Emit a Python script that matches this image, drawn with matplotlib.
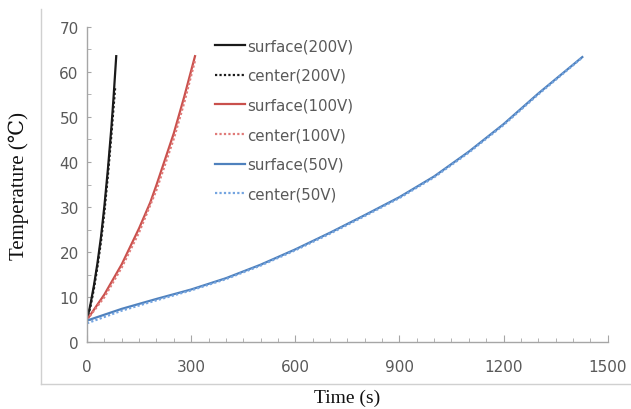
import matplotlib
matplotlib.use('Agg')
import matplotlib.pyplot as plt
from matplotlib.lines import Line2D
from matplotlib.ticker import MultipleLocator

# 200V
t_s200 = [0, 10, 20, 30, 40, 50, 60, 70, 76, 84]
T_s200 = [5, 8.5, 12.7, 17.6, 23.3, 30.3, 38.4, 47.6, 54, 63.5]
t_c200 = [0, 10, 20, 30, 40, 50, 60, 70, 81]
T_c200 = [5, 8, 12, 16.8, 22.3, 29, 37, 46, 56.6]

# 100V
t_s100 = [0, 50, 100, 150, 182, 200, 250, 280, 311]
T_s100 = [5, 10.6, 17.3, 25.3, 31, 34.9, 46.4, 54.5, 63.5]
t_c100 = [0, 50, 100, 150, 200, 250, 280, 311]
T_c100 = [5, 10, 16.6, 24.4, 33.8, 45.2, 53.2, 62.5]

# 50V
t_s50 = [0, 100, 200, 300, 400, 500, 600, 700, 800, 900, 1000, 1100, 1200, 1300, 1427]
T_s50 = [4.8, 7.4, 9.6, 11.7, 14.2, 17.2, 20.6, 24.3, 28.2, 32.2, 36.8, 42.3, 48.4, 55.2, 63.3]
t_c50 = [0, 100, 200, 300, 400, 500, 600, 700, 800, 900, 1000, 1100, 1200, 1300, 1427]
T_c50 = [4.2, 7.0, 9.3, 11.5, 14.0, 17.0, 20.4, 24.1, 28.0, 32.0, 36.6, 42.1, 48.2, 55.0, 63.2]

BLACK = '#1a1a1a'
RED = '#c9504c'
RED_L = '#e07a78'
BLUE = '#4f81bd'
BLUE_L = '#74a4e0'
AXC = '#a6a6a6'
TXT = '#595959'

fig = plt.figure(figsize=(6.31, 4.10), dpi=100)
ax = fig.add_axes([0.138, 0.163, 0.825, 0.769])

ax.plot(t_s200, T_s200, color=BLACK, lw=1.6, label='surface(200V)')
ax.plot(t_c200, T_c200, color=BLACK, lw=1.6, ls=(0, (1, 1)), label='center(200V)')
ax.plot(t_s100, T_s100, color=RED, lw=1.6, label='surface(100V)')
ax.plot(t_c100, T_c100, color=RED_L, lw=1.6, ls=(0, (1, 1)), label='center(100V)')
ax.plot(t_s50, T_s50, color=BLUE, lw=1.6, label='surface(50V)')
ax.plot(t_c50, T_c50, color=BLUE_L, lw=1.6, ls=(0, (1, 1)), label='center(50V)')

ax.set_xlim(0, 1500)
ax.set_ylim(0, 70)
ax.xaxis.set_major_locator(MultipleLocator(300))
ax.xaxis.set_minor_locator(MultipleLocator(50))
ax.yaxis.set_major_locator(MultipleLocator(10))
ax.yaxis.set_minor_locator(MultipleLocator(5))
for s in ('top', 'right'):
    ax.spines[s].set_visible(False)
for s in ('left', 'bottom'):
    ax.spines[s].set_color(AXC)
    ax.spines[s].set_linewidth(1.0)
ax.tick_params(axis='x', which='major', direction='in', length=5, color=AXC,
               labelsize=11, labelcolor=TXT, pad=12)
ax.tick_params(axis='x', which='minor', direction='in', length=3, color=AXC)
ax.tick_params(axis='y', which='major', direction='in', length=3, color=AXC,
               labelsize=11, labelcolor=TXT, pad=6)
ax.tick_params(axis='y', which='minor', direction='in', length=3, color=AXC)

leg = ax.legend(loc='upper left', bbox_to_anchor=(0.225, 1.0), frameon=False,
                fontsize=10.8, labelcolor=TXT, handlelength=2.0,
                handletextpad=0.12, labelspacing=0.98, borderaxespad=0.35)

ax.set_xlabel('Time (s)', family=['Liberation Serif', 'DejaVu Serif'],
              fontsize=14, color='#111111', labelpad=11)
ax.set_ylabel('Temperature (℃)', family=['Liberation Serif', 'DejaVu Serif', 'Noto Sans CJK JP'],
              fontsize=15, color='#111111', labelpad=22)

# chart frame (left and bottom edges)
fig.add_artist(Line2D([0.065, 0.065], [0.06, 0.975], transform=fig.transFigure,
                      color='#d0d0d0', lw=1.0))
fig.add_artist(Line2D([0.065, 1.0], [0.06, 0.06], transform=fig.transFigure,
                      color='#d0d0d0', lw=1.0))

fig.savefig('out.png', dpi=100, facecolor='white')
